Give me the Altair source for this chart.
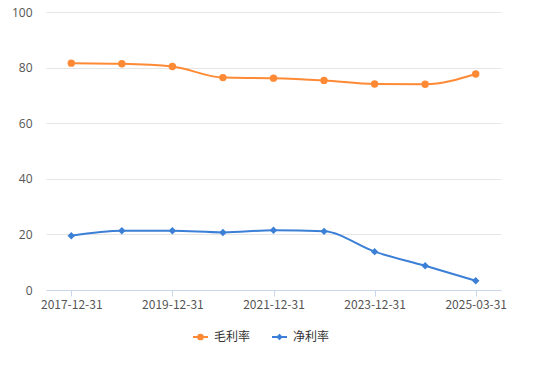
import altair as alt
import pandas as pd

dates = ["2017-12-31", "2018-12-31", "2019-12-31", "2020-12-31", "2021-12-31",
         "2022-12-31", "2023-12-31", "2024-12-31", "2025-03-31"]
gross_margin = [81.6, 81.4, 80.4, 76.4, 76.2, 75.4, 74.1, 74.0, 77.7]
net_margin = [19.5, 21.3, 21.3, 20.7, 21.5, 21.1, 13.8, 8.7, 3.3]
series_names = ["毛利率", "净利率"]
series_colors = ["#ff8a35", "#3c7fd6"]
series_shapes = ["circle", "diamond"]
y_ticks = [0, 20, 40, 60, 80, 100]

rows = []
for i, d in enumerate(dates):
    rows.append({"date": d, "series": series_names[0], "value": gross_margin[i]})
    rows.append({"date": d, "series": series_names[1], "value": net_margin[i]})
df = pd.DataFrame(rows)

FONT = "Noto Sans CJK SC"
x_enc = alt.X("date:O", sort=dates,
              scale=alt.Scale(paddingInner=0, paddingOuter=0, domain=dates),
              axis=alt.Axis(title=None, values=dates[::2], labelAngle=0,
                            domainColor="#ccd6eb", tickColor="#ccd6eb",
                            tickSize=6, labelPadding=3, grid=False,
                            labelColor="#555555", labelFontSize=12, labelFont=FONT))
y_enc = alt.Y("value:Q", scale=alt.Scale(domain=[0, 100], nice=False),
              axis=alt.Axis(title=None, values=y_ticks, domain=False, ticks=False,
                            gridColor="#e6e6e6", labelPadding=14,
                            labelColor="#555555", labelFontSize=12, labelFont="Open Sans"))
color_enc = alt.Color("series:N", scale=alt.Scale(domain=series_names, range=series_colors), legend=None)
shape_enc = alt.Shape("series:N", scale=alt.Scale(domain=series_names, range=series_shapes), legend=None)

base = alt.Chart(df)
lines = base.mark_line(interpolate="monotone", strokeWidth=2).encode(x=x_enc, y=y_enc, color=color_enc)
points = base.mark_point(filled=True, size=55, opacity=1).encode(x=x_enc, y=y_enc, color=color_enc, shape=shape_enc)

legend_layers = []
offsets = [147, 226]
LY = 325
for name, col, shp, x0 in zip(series_names, series_colors, series_shapes, offsets):
    ldf = pd.DataFrame({"name": [name]})
    legend_layers.append(alt.Chart(ldf).mark_rule(color=col, strokeWidth=2).encode(
        x=alt.value(x0), x2=alt.value(x0 + 15), y=alt.value(LY)))
    legend_layers.append(alt.Chart(ldf).mark_point(filled=True, shape=shp, size=45, color=col, opacity=1).encode(
        x=alt.value(x0 + 7.5), y=alt.value(LY)))
    legend_layers.append(alt.Chart(ldf).mark_text(align="left", baseline="middle", fontSize=12,
                                                  font="Noto Sans CJK SC", color="#333333").encode(
        x=alt.value(x0 + 21), y=alt.value(LY), text="name:N"))

chart = alt.layer(lines, points, *legend_layers).properties(
    width=455, height=278,
    autosize=alt.AutoSizeParams(type="none"),
    padding={"left": 38, "top": 4, "right": 25, "bottom": 69},
).configure_view(stroke=None)

chart.save("out.html", embed_options={"renderer": "svg", "actions": False})
